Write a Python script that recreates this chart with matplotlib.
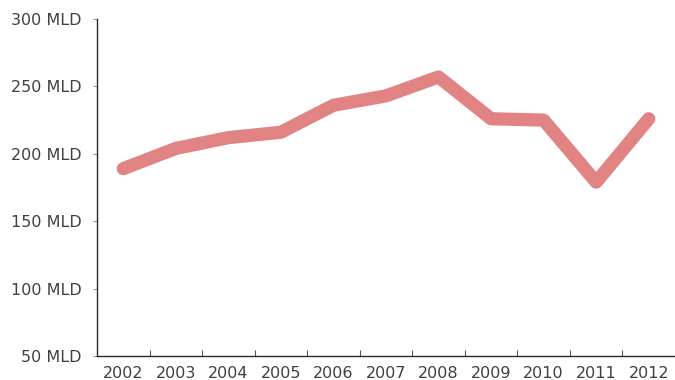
import matplotlib
matplotlib.use("Agg")
import matplotlib.pyplot as plt
import numpy as np

years = ["2002", "2003", "2004", "2005", "2006", "2007", "2008", "2009", "2010", "2011", "2012"]
values = [189, 204, 212, 216, 236, 243, 257, 226, 225, 179, 226]
yticks = [50, 100, 150, 200, 250, 300]

plt.rcParams["font.family"] = ["DejaVu Sans"]

fig = plt.figure(figsize=(6.75, 3.8), dpi=100)
ax = fig.add_axes([0.1437, 0.063, 0.8563, 0.887])

x = np.arange(len(years))
ax.plot(x, values, color="#e07b7c", lw=9.5, solid_capstyle="round",
        solid_joinstyle="round", alpha=0.95)

ax.set_xlim(-0.5, len(years) - 0.5)
ax.set_ylim(50, 300)
ax.set_yticks(yticks)
ax.set_yticklabels([f"{v} MLD" for v in yticks])
ax.set_xticks(x)
ax.set_xticklabels(years)
ax.set_xticks(x[:-1] + 0.5, minor=True)

ax.tick_params(axis="y", direction="out", length=3, width=0.8, color="#999999",
               labelsize=11.5, labelcolor="#404040", pad=8)
ax.tick_params(axis="x", which="major", length=0, labelsize=11.5,
               labelcolor="#404040", pad=7.5)
ax.tick_params(axis="x", which="minor", direction="in", length=4, width=0.8,
               color="#555555")

for side in ("top", "right"):
    ax.spines[side].set_visible(False)
for side in ("left", "bottom"):
    ax.spines[side].set_color("#2a2a2a")
    ax.spines[side].set_linewidth(1.0)

fig.savefig("out.png", dpi=100)
